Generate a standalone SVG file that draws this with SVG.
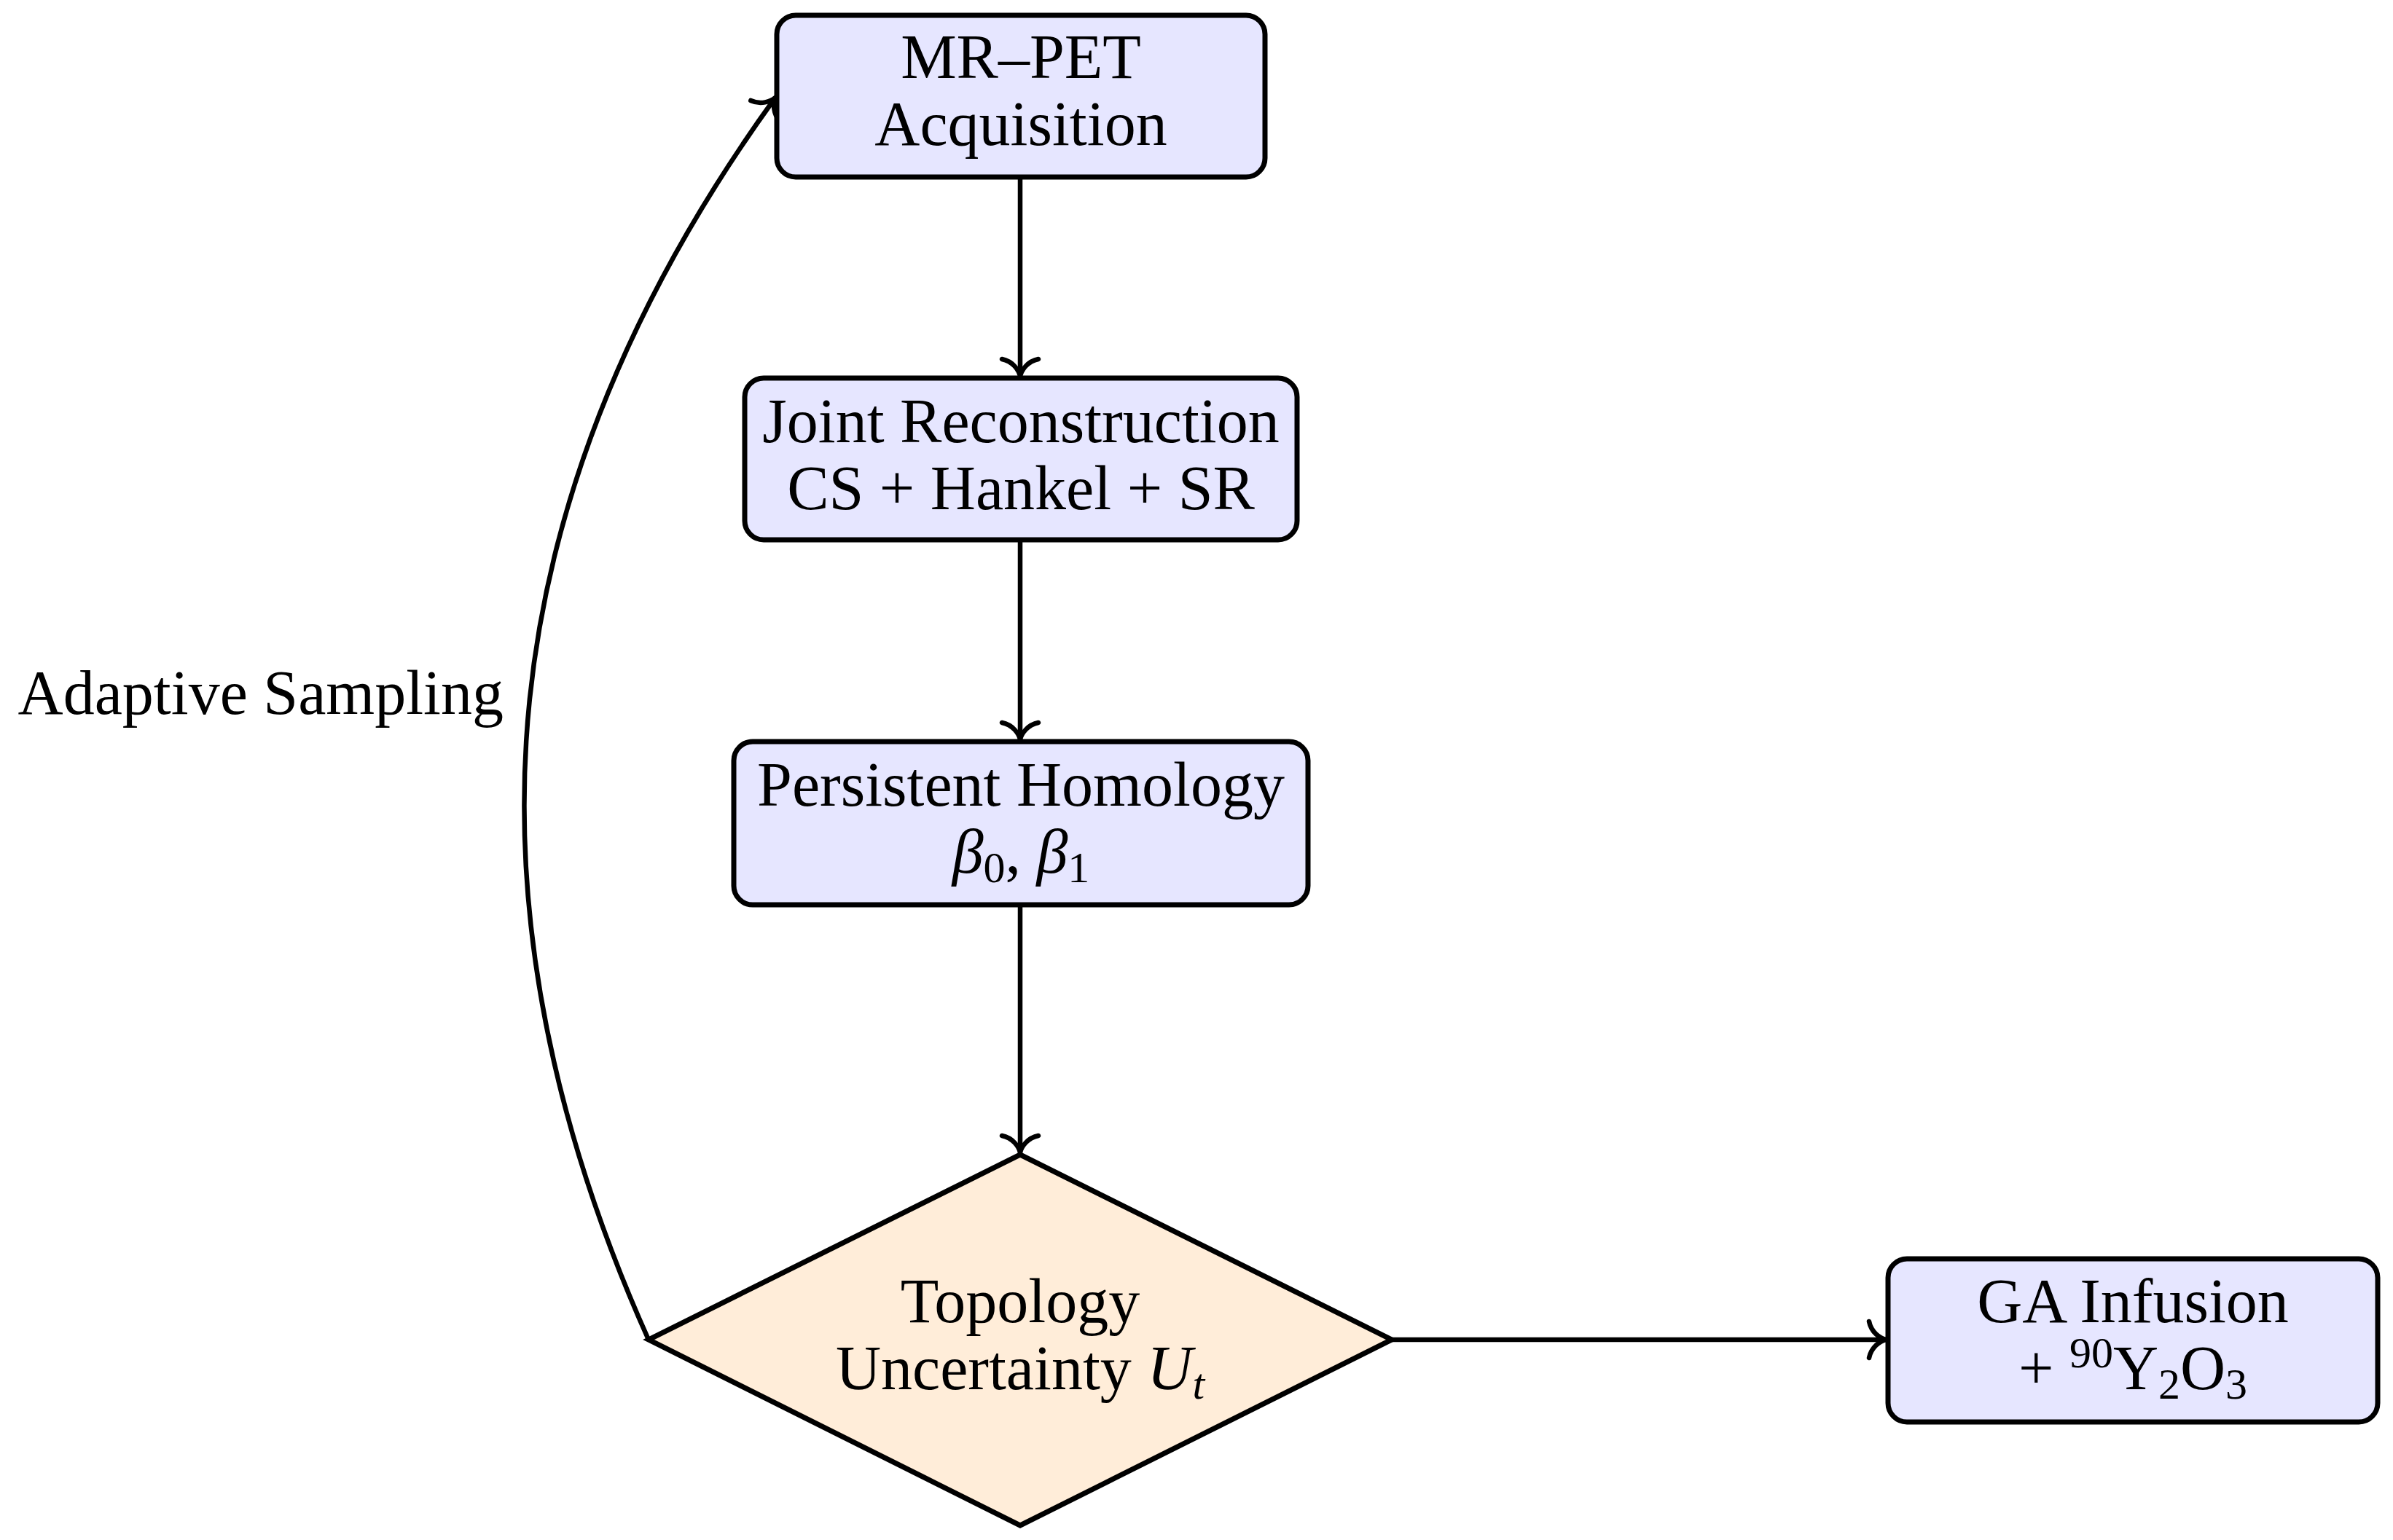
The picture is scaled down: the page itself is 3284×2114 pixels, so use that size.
<svg xmlns="http://www.w3.org/2000/svg" width="3284" height="2114" viewBox="0 0 3284 2114">
<style>
.box{fill:#E6E6FF;stroke:#000;stroke-width:7}
.dia{fill:#FFEDD9;stroke:#000;stroke-width:7;stroke-linejoin:miter}
.lbl{font-family:"Liberation Serif","DejaVu Serif",serif;font-size:86px;fill:#000;text-anchor:middle}
.edge{fill:none;stroke:#000;stroke-width:6.5}
.it{font-style:italic}
.sm{font-size:60px}
</style>
<defs>
<marker id="to" markerUnits="userSpaceOnUse" markerWidth="60" markerHeight="70" viewBox="-30 -35 60 70" refX="0" refY="0" orient="auto" overflow="visible">
<path d="M -23,25 C -20,10 -8,2 0,0 M -23,-25 C -20,-10 -8,-2 0,0" fill="none" stroke="#000" stroke-width="6.5" stroke-linecap="round"/>
</marker>
</defs>
<rect width="3284" height="2114" fill="#fff"/>
<g id="connectors">
<line class="edge" x1="1400" y1="243" x2="1400" y2="516" marker-end="url(#to)"/>
<line class="edge" x1="1400" y1="741" x2="1400" y2="1015" marker-end="url(#to)"/>
<line class="edge" x1="1400" y1="1242" x2="1400" y2="1582" marker-end="url(#to)"/>
<line class="edge" x1="1910" y1="1839" x2="2588" y2="1839" marker-end="url(#to)"/>
<path class="edge" d="M 890,1839 C 615,1226 672,676 1064,134" marker-end="url(#to)"/>
<text class="lbl" x="691" y="980" style="text-anchor:end">Adaptive Sampling</text>
</g>
<g id="mrpet">
<rect class="box" x="1066" y="21" width="670" height="222" rx="26"/>
<text class="lbl" x="1401" y="107">MR–PET</text>
<text class="lbl" x="1401" y="199">Acquisition</text>
</g>
<g id="joint">
<rect class="box" x="1022" y="519" width="758" height="222" rx="26"/>
<text class="lbl" x="1401" y="607">Joint Reconstruction</text>
<text class="lbl" x="1401" y="699">CS + Hankel + SR</text>
</g>
<g id="homology">
<rect class="box" x="1007" y="1018" width="788" height="224" rx="26"/>
<text class="lbl" x="1401" y="1106">Persistent Homology</text>
<text class="lbl" x="1401" y="1198"><tspan class="it">β</tspan><tspan class="sm" dy="13">0</tspan><tspan dy="-13">,  </tspan><tspan class="it">β</tspan><tspan class="sm" dy="13">1</tspan></text>
</g>
<g id="uncertainty">
<polygon class="dia" points="1400,1585 1910,1839 1400,2094 890,1839"/>
<text class="lbl" x="1400" y="1815">Topology</text>
<text class="lbl" x="1400" y="1907">Uncertainty <tspan class="it">U</tspan><tspan class="it sm" dy="13">t</tspan></text>
</g>
<g id="infusion">
<rect class="box" x="2591" y="1728" width="672" height="224" rx="26"/>
<text class="lbl" x="2927" y="1815">GA Infusion</text>
<text class="lbl" x="2927" y="1907">+ <tspan class="sm" dy="-30">90</tspan><tspan dy="30">Y</tspan><tspan class="sm" dy="13">2</tspan><tspan dy="-13">O</tspan><tspan class="sm" dy="13">3</tspan></text>
</g>
</svg>
